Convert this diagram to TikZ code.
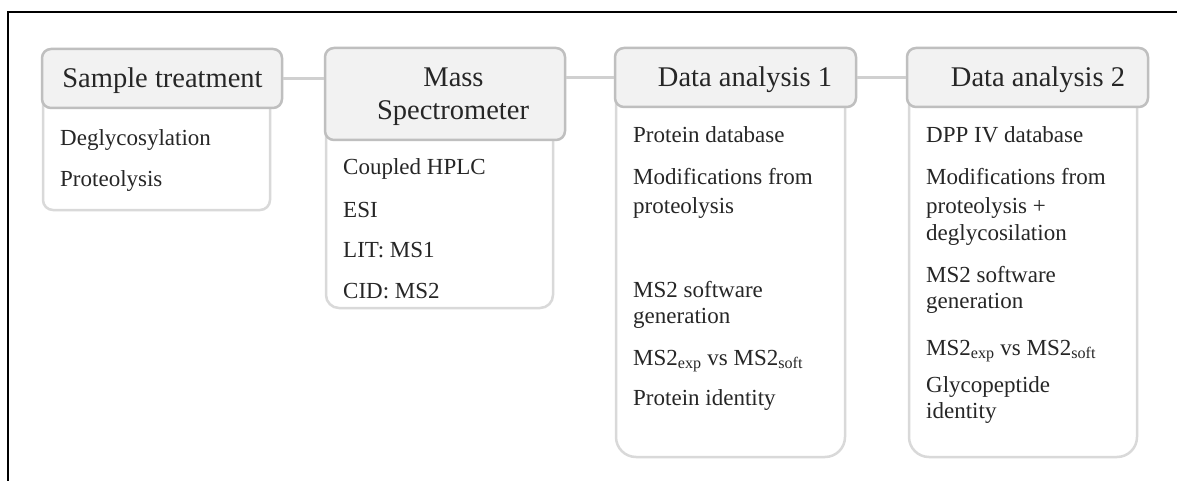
\documentclass[tikz,border=0pt]{standalone}
\usepackage{fontspec}
\setmainfont{Liberation Serif}
\definecolor{hdrfill}{HTML}{F2F2F2}
\definecolor{hdrline}{HTML}{BFBFBF}
\definecolor{bodyline}{HTML}{D9D9D9}
\definecolor{conn}{HTML}{D0D0D0}
\definecolor{txt}{HTML}{262626}
\tikzset{
  hdr/.style={draw=hdrline, fill=hdrfill, line width=2.5pt, rounded corners=9pt, inner sep=0pt},
  bodybox/.style={draw=bodyline, fill=white, line width=2.5pt, inner sep=0pt},
  htext/.style={anchor=base, text=txt, font=\fontsize{28.5}{33}\selectfont, inner sep=0pt},
  btext/.style={anchor=base west, text=txt, font=\fontsize{23}{27}\selectfont, inner sep=0pt},
  link/.style={draw=conn, line width=2.5pt}
}
\begin{document}
\begin{tikzpicture}[x=1pt,y=-1pt]
\useasboundingbox (0,0) rectangle (1177,481);
\fill[white] (0,0) rectangle (1177,481);
% frame
\coordinate (fa) at (1177,12);
\coordinate (fb) at (8,12);
\coordinate (fc) at (8,481);
\draw[black, line width=1.5pt] (fa) -- (fb) -- (fc);

% bodies
\node[bodybox, rounded corners=10pt, minimum width=227pt, minimum height=132pt] (b1) at (156.5,144) {};
\node[bodybox, rounded corners=13pt, minimum width=227pt, minimum height=214pt] (b2) at (439.5,201) {};
\node[bodybox, rounded corners=20pt, minimum width=229pt, minimum height=379pt] (b3) at (730.5,267.5) {};
\node[bodybox, rounded corners=20pt, minimum width=228pt, minimum height=379pt] (b4) at (1023,267.5) {};

% headers
\node[hdr, minimum width=240pt, minimum height=59pt] (h1) at (162,78.5) {};
\node[hdr, minimum width=240pt, minimum height=92pt] (h2) at (445,94) {};
\node[hdr, minimum width=241pt, minimum height=59pt] (h3) at (735.5,77.5) {};
\node[hdr, minimum width=241pt, minimum height=59pt] (h4) at (1027.5,77.5) {};

% connectors
\draw[link] (h1.east) -- (h1.east -| h2.west);
\draw[link] (h2.east |- h3.west) -- (h3.west);
\draw[link] (h3.east) -- (h4.west);

% header texts
\node[htext] (t1) at (162.5,88) {Sample treatment};
\node[htext] (t2a) at (453.5,87) {Mass};
\node[htext] (t2b) at (453,120) {Spectrometer};
\node[htext] (t3) at (745,87) {Data analysis 1};
\node[htext] (t4) at (1038,87) {Data analysis 2};

% box 1
\node[btext] (a1) at (60,146) {Deglycosylation};
\node[btext] (a2) at (60,186) {Proteolysis};

% box 2
\node[btext] (m1) at (343,175) {Coupled HPLC};
\node[btext] (m2) at (343,218) {ESI};
\node[btext] (m3) at (343,257) {LIT: MS1};
\node[btext] (m4) at (343,298) {CID: MS2};

% box 3
\node[btext] (c1) at (633,143) {Protein database};
\node[btext] (c2) at (633,185) {Modifications from};
\node[btext] (c3) at (633,213) {proteolysis};
\node[btext] (c4) at (633,297) {MS2 software};
\node[btext] (c5) at (633,323) {generation};
\node[btext] (c6) at (633,365) {MS2\textsubscript{exp} vs MS2\textsubscript{soft}};
\node[btext] (c7) at (633,405) {Protein identity};

% box 4
\node[btext] (d1) at (926,143) {DPP IV database};
\node[btext] (d2) at (926,185) {Modifications from};
\node[btext] (d3) at (926,213) {proteolysis +};
\node[btext] (d4) at (926,240) {deglycosilation};
\node[btext] (d5) at (926,282) {MS2 software};
\node[btext] (d6) at (926,308) {generation};
\node[btext] (d7) at (926,355) {MS2\textsubscript{exp} vs MS2\textsubscript{soft}};
\node[btext] (d8) at (926,392) {Glycopeptide};
\node[btext] (d9) at (926,418) {identity};
\end{tikzpicture}
\end{document}
